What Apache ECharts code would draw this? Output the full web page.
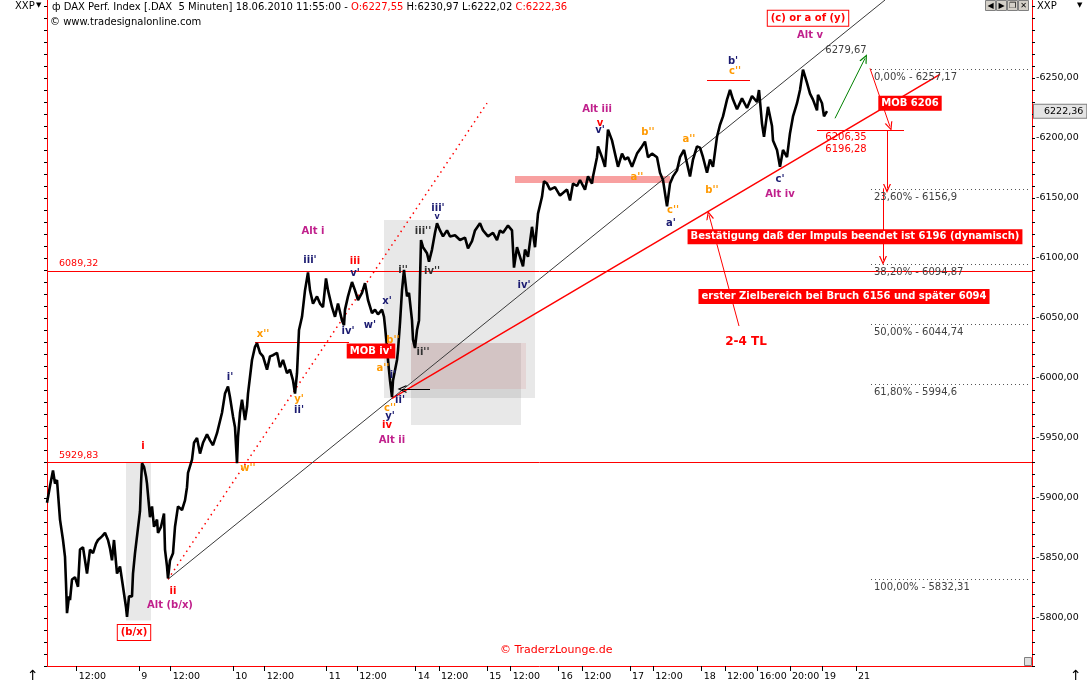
<!DOCTYPE html>
<html><head><meta charset="utf-8">
<script src="https://cdn.jsdelivr.net/npm/echarts@6/dist/echarts.min.js"></script>
<style>html,body{margin:0;padding:0;background:#fff;}#c{width:1087px;height:686px;}</style>
</head><body><div id="c"></div>
<script>
// ---------- DATA (x = time slot along the chart's bar axis, y = index points) ----------
const xTickPos  = [29.7, 92.3, 123.7, 186.3, 217.7, 279.7, 310.3, 368.7, 392, 440.3, 463.7, 511.7, 535, 583, 606.3, 654.7, 678, 710.3, 743, 775, 809];
const xTickText = ['12:00','9','12:00','10','12:00','11','12:00','14','12:00','15','12:00','16','12:00','17','12:00','18','12:00','16:00','20:00','19','21'];
const yLabelValues = [5800, 5850, 5900, 5950, 6000, 6050, 6100, 6150, 6200, 6250];

const priceDay8to9 = [[0,5896],[3,5910],[6,5923],[8,5912],[10,5915],[13,5882],[16,5865],[18,5851],[19,5829],[20,5804],[22,5818],[23,5815],[25,5832],[28,5834],[31,5826],[33,5857],[36,5859],[38,5848],[40,5837],[43,5857],[46,5854],[49,5862],[51,5865],[55,5868],[58,5871],[61,5865],[63,5858],[65,5848],[67,5865],[70,5837],[73,5843],[76,5826],[79,5809],[80,5801],[82,5818],[85,5818],[86,5837],[88,5854],[90,5868],[92,5868],[93,5889],[94,5912],[95,5929],[97,5926],[99,5918],[100,5912],[103,5884],[105,5893],[107,5876],[110,5882],[111,5871],[114,5876],[117,5887],[118,5857],[120,5843],[121,5833],[123,5848],[126,5854],[128,5876],[131,5893],[135,5890],[138,5898],[140,5909],[141,5921],[145,5932],[147,5946]];
const priceDay9to11 = [[150,5950],[153,5937],[156,5946],[160,5953],[163,5948],[166,5944],[170,5954],[175,5971],[178,5987],[181,5993],[183,5984],[186,5968],[188,5959],[190,5929],[191,5951],[193,5971],[195,5982],[198,5965],[200,5976],[201,5987],[205,6015],[208,6026],[210,6029],[213,6021],[216,6018],[220,6007],[223,6018],[226,6019],[230,6021],[233,6009],[236,6015],[240,6004],[243,6007],[246,5998],[248,5987],[250,6004],[252,6040],[255,6051],[258,6073],[261,6088],[263,6073],[266,6062],[270,6068],[273,6062],[276,6059],[279,6083],[281,6073],[285,6059],[288,6051],[291,6062],[295,6048],[297,6044],[298,6057],[301,6068],[305,6080],[308,6073],[311,6065],[315,6071],[318,6079],[321,6065],[325,6054],[328,6057],[331,6053],[335,6057],[337,6051],[338,6043],[340,6026],[341,6015],[343,5998],[345,5984],[346,5998],[350,6015],[351,6023],[353,6046],[355,6073],[357,6090],[360,6068],[362,6071],[365,6048],[366,6032],[368,6025],[370,6040],[372,6048]];
const priceDay14to18 = [[374,6115],[376,6109],[380,6104],[382,6097],[385,6107],[388,6121],[390,6129],[393,6123],[396,6118],[400,6123],[403,6118],[408,6119],[413,6115],[418,6117],[421,6108],[425,6114],[428,6123],[433,6129],[436,6123],[441,6118],[446,6121],[450,6115],[453,6123],[456,6121],[461,6127],[465,6123],[467,6092],[470,6109],[473,6101],[476,6093],[478,6107],[481,6101],[485,6126],[488,6109],[491,6137],[495,6151],[497,6164],[500,6162],[503,6157],[508,6159],[513,6152],[520,6157],[523,6148],[526,6162],[530,6160],[533,6165],[538,6157],[541,6168],[545,6162],[546,6168],[550,6184],[551,6193],[555,6184],[558,6176],[561,6207],[565,6198],[568,6187],[571,6176],[575,6187],[578,6182],[581,6184],[585,6176],[590,6187],[595,6193],[598,6197],[601,6184],[605,6187],[610,6184],[613,6171],[616,6165],[620,6143],[623,6162],[626,6168],[630,6173],[633,6184],[637,6190],[640,6179],[643,6168],[646,6182],[650,6193],[653,6192],[656,6184],[660,6171],[663,6182],[666,6176],[670,6201],[673,6211],[676,6218],[680,6232],[683,6240],[686,6232],[690,6224],[695,6233],[700,6225],[705,6235],[710,6230],[712,6240],[715,6212],[717,6201],[721,6226],[725,6210],[726,6198],[730,6190],[733,6176],[736,6190],[740,6184],[743,6204],[746,6218],[750,6229],[753,6240],[756,6257],[760,6246],[763,6237],[766,6232],[770,6223],[771,6236],[775,6229],[777,6218],[780,6222.36]];
const lastClose = 6222.36;

const levelLines = [[6089.32,'6089,32'],[5929.83,'5929,83']];
const fibRange = [824, 983];
const fibLevels = [[6257.17,'0,00% - 6257,17'],[6156.9,'23,60% - 6156,9'],[6094.87,'38,20% - 6094,87'],[6044.74,'50,00% - 6044,74'],[5994.6,'61,80% - 5994,6'],[5832.31,'100,00% - 5832,31']];
// [x1, y1, x2, y2, kind]
const trendLines = [[121,5832.31,838,6315,'tl'],[121,5832.31,440,6229,'dotted'],[345,5983,893,6253,'tl24'],[770,6206.35,857,6206.35,'red'],[660,6248,703,6248,'red'],[208,6030,302,6030,'red']];
const arrows = [[823,6258,843,6209.5,'red'],[840,6206.35,840,6158,'red'],[836,6158,836,6098,'red'],[788,6216.4,818,6266.4,'green'],[692,6043.3,662,6135.8,'red'],[383,5990.8,355,5990.8,'black']];
// [x1, y1, x2, y2, kind]
const zones = [[79,5929.83,104,5798,'gray'],[337,6131.7,488,5983.3,'gray'],[364,6029.2,474,5960.8,'gray'],[364,6029.2,479,5990.8,'pink'],[468,6168.3,623,6162.5,'band']];
// [x, y, text, kind]
const waveLabels = [
 [96,5942.7,'i','red'],[126,5822,'ii','red'],[123,5810.8,'Alt (b/x)','alt'],[87,5788,'(b/x)','redBox'],
 [266,6122.5,'Alt i','alt'],[263,6098.3,"iii'",'navy'],[308,6097,'iii','red'],[308,6087,"v'",'navy'],
 [183,6000.6,"i'",'navy'],[216,6036.4,"x''",'orange'],[252,5982,"y'",'orange'],[252,5973.3,"ii'",'navy'],[201,5925,"w''",'orange'],
 [301,6038.6,"iv'",'navy'],[323,6044,"w'",'navy'],[340,6063.6,"x'",'navy'],[324,6022.5,"MOB iv'",'box'],
 [346,6031.7,"b''",'orange'],[336,6008,"a''",'orange'],[346,6002,"i'",'navy'],[353,5981.7,"ii'",'navy'],
 [343,5975,"c''",'orange'],[343,5967.8,"y'",'navy'],[340,5960.8,'iv','red'],[345,5948.3,'Alt ii','alt'],
 [356,6090,"i''",'gray'],[376,6122,"iii''",'gray'],[376,6021,"ii''",'gray'],[385,6088.6,"iv''",'gray'],
 [391,6141.4,"iii'",'navy'],[390,6134.4,'v','navySmall'],[477,6077.5,"iv'",'navy'],
 [550,6223.9,'Alt iii','alt'],[553,6212,'v','red'],[553,6206,"v'",'navy'],[601,6205,"b''",'orange'],[590,6167,"a''",'orange'],
 [626,6140,"c''",'orange'],[624,6128.9,"a'",'navy'],[642,6198.9,"a''",'orange'],[665,6156.7,"b''",'orange'],
 [733,6165.6,"c'",'navy'],[733,6153.3,'Alt iv','alt'],[686,6263.6,"b'",'navy'],[688,6255.3,"c''",'orange'],
 [763,6285.8,'Alt v','alt'],[761,6299.7,'(c) or a of (y)','redBox'],[799,6273.3,'6279,67','grayText'],
 [863,6228.9,'MOB 6206','box'],[799,6200.6,'6206,35','redText'],[799,6190.6,'6196,28','redText'],
 [808,6117.8,'Bestätigung daß der Impuls beendet ist 6196 (dynamisch)','box'],
 [797,6067.9,'erster Zielbereich bei Bruch 6156 und später 6094','box'],
 [699,6030,'2-4 TL','redBig']
];

// ---------- STYLES ----------
const F = 'DejaVu Sans';
const RED = '#ff0000';
const yTickValues = []; for (let v = 5760; v <= 6310; v += 10) yTickValues.push(v);
const lineKinds = {
  tl: {color:'#3a3a3a', width:1, type:'solid'},
  dotted: {color:RED, width:1.5, type:[1.5,4]},
  tl24: {color:RED, width:1.5, type:'solid'},
  red: {color:RED, width:1, type:'solid'},
  green: {color:'#008000', width:1, type:'solid'},
  black: {color:'#000', width:1, type:'solid'}
};
const zoneKinds = {gray:'rgba(0,0,0,0.09)', pink:'rgba(200,100,100,0.15)', band:'rgba(245,120,120,0.7)'};
const labelKinds = {
  red:{color:RED}, navy:{color:'#1a1a70'}, navySmall:{color:'#1a1a70', fontSize:8}, orange:{color:'#ff9900'},
  alt:{color:'#c0208c'}, gray:{color:'#303030'},
  box:{color:'#fff', backgroundColor:RED, padding:[3,3,2,3]},
  redBox:{color:RED, backgroundColor:'#fff', borderColor:RED, borderWidth:1, padding:[3,3,2,3]},
  grayText:{color:'#404040', fontWeight:'normal'},
  redText:{color:RED, fontWeight:'normal'},
  redBig:{color:RED, fontSize:12}
};
const chevron = 'path://M5,0 L10,10 L8.4,10 L5,3.2 L1.6,10 L0,10 Z';

const mlData = [];
levelLines.forEach(([v,t]) => mlData.push({yAxis:v, lineStyle:{color:RED,width:1,type:'solid'},
  label:{show:true, position:'insideStartTop', formatter:t, color:RED, fontSize:9.5, fontFamily:F, padding:[0,0,0,10], distance:2}}));
fibLevels.forEach(([v,t]) => mlData.push([{coord:[fibRange[0],v], lineStyle:{color:'#555',width:1,type:[1,3]},
  label:{show:true, position:'insideStartBottom', formatter:t, color:'#404040', fontSize:10, fontFamily:F, distance:3}}, {coord:[fibRange[1],v]}]));
trendLines.forEach(([x1,y1,x2,y2,k]) => mlData.push([{coord:[x1,y1], lineStyle:lineKinds[k]}, {coord:[x2,y2]}]));
arrows.forEach(([x1,y1,x2,y2,k]) => mlData.push([{coord:[x1,y1], symbol:'none', lineStyle:lineKinds[k]}, {coord:[x2,y2], symbol:chevron, symbolSize:[8,9]}]));
mlData.push({yAxis:lastClose, lineStyle:{color:'rgba(0,0,0,0)', width:1, opacity:1},
  label:{show:true, position:'end', formatter:'6222,36', color:'#000', opacity:1, fontSize:9.5, fontFamily:F, backgroundColor:'#e4e4e4', borderColor:'#808080', borderWidth:1, padding:[2,3,1,10], distance:2}});

const maData = zones.map(([x1,y1,x2,y2,k]) => [{coord:[x1,y1], itemStyle:{color:zoneKinds[k]}}, {coord:[x2,y2]}]);

const labelData = waveLabels.map(([x,y,t,k]) => ({value:[x,y], label:Object.assign({show:true, position:'inside', formatter:t, fontFamily:F, fontWeight:'bold', fontSize:10, opacity:1}, labelKinds[k])}));

const btn = (x, ch) => [
  {type:'rect', shape:{x:x, y:0, width:10, height:10}, style:{fill:'#d4d0c8', stroke:'#808080', lineWidth:1}},
  {type:'text', x:x+5, y:5, style:{text:ch, fill:'#000', font:'8px DejaVu Sans', align:'center', verticalAlign:'middle'}}
];

const option = {
  animation:false,
  textStyle:{fontFamily:F},
  grid:{left:47, right:55, top:0, bottom:20, containLabel:false, outerBoundsMode:'none'},
  xAxis:{type:'value', min:0, max:985,
    axisLine:{show:true, onZero:false, lineStyle:{color:RED, width:1}},
    axisTick:{show:true, customValues:xTickPos, length:5, lineStyle:{color:'#000'}},
    axisLabel:{show:true, customValues:xTickPos, align:'left', padding:[0,0,0,2], margin:6, fontSize:9.5, fontFamily:F, color:'#000',
      formatter:(v) => { const i = xTickPos.findIndex(p => Math.abs(p - v) < 0.01); return i >= 0 ? xTickText[i] : ''; }},
    splitLine:{show:false}},
  yAxis:[
    {type:'value', position:'right', min:5760, max:6315,
      axisLine:{show:true, onZero:false, lineStyle:{color:RED, width:1}},
      axisTick:{show:true, customValues:yTickValues, length:3, lineStyle:{color:'#000'}},
      axisLabel:{show:true, customValues:yLabelValues, margin:4, fontSize:9.5, fontFamily:F, color:'#000',
        formatter:(v) => '-' + v.toFixed(2).replace('.', ',')},
      splitLine:{show:false}},
    {type:'value', position:'left', min:5760, max:6315,
      axisLine:{show:true, onZero:false, lineStyle:{color:RED, width:1}},
      axisTick:{show:true, customValues:yTickValues, length:3, lineStyle:{color:'#000'}},
      axisLabel:{show:false}, splitLine:{show:false}}
  ],
  graphic:[
    {type:'text', left:52, top:2, style:{text:'{a|ф DAX Perf. Index [.DAX  5 Minuten] 18.06.2010 11:55:00 - }{r|O:6227,55}{a| H:6230,97 L:6222,02 }{r|C:6222,36}',
      rich:{a:{fill:'#000', fontSize:10, fontFamily:F}, r:{fill:RED, fontSize:10, fontFamily:F}}}},
    {type:'text', left:50, top:17, style:{text:'© www.tradesignalonline.com', fill:'#000', font:'10px DejaVu Sans'}},
    {type:'text', left:15, top:1, style:{text:'XXP', fill:'#000', font:'10px DejaVu Sans'}},
    {type:'text', left:36, top:2, style:{text:'▼', fill:'#000', font:'7px DejaVu Sans'}},
    {type:'text', left:1037, top:1, style:{text:'XXP', fill:'#000', font:'10px DejaVu Sans'}},
    {type:'text', left:1077, top:2, style:{text:'▼', fill:'#000', font:'7px DejaVu Sans'}},
    {type:'group', left:985, top:0, children:[].concat(btn(0,'◀'), btn(11,'▶'), btn(22,'❐'), btn(33,'✕'))},
    {type:'text', left:500, top:645, style:{text:'© TraderzLounge.de', fill:RED, font:'11px DejaVu Sans'}},
    {type:'text', left:27, top:669, style:{text:'↑', fill:'#000', font:'14px DejaVu Sans'}},
    {type:'text', left:1070, top:669, style:{text:'↑', fill:'#000', font:'14px DejaVu Sans'}},
    {type:'rect', left:1024, top:657, shape:{width:7, height:8}, style:{fill:'#e0e0e0', stroke:'#808080'}}
  ],
  series:[
    {type:'line', name:'DAX', data:priceDay8to9.concat(priceDay9to11, priceDay14to18), xAxisIndex:0, yAxisIndex:0,
      symbol:'none', clip:true, silent:true, z:5,
      lineStyle:{color:'#000', width:2.6},
      markLine:{silent:true, symbol:'none', animation:false, label:{show:false}, data:mlData},
      markArea:{silent:true, animation:false, label:{show:false}, data:maData}},
    {type:'scatter', data:labelData, xAxisIndex:0, yAxisIndex:0, symbolSize:0.01, silent:true, z:10,
      itemStyle:{color:'rgba(0,0,0,0)', opacity:1}}
  ]
};
const chart = echarts.init(document.getElementById('c'), null, {renderer:'canvas'});
chart.setOption(option);
</script></body></html>
